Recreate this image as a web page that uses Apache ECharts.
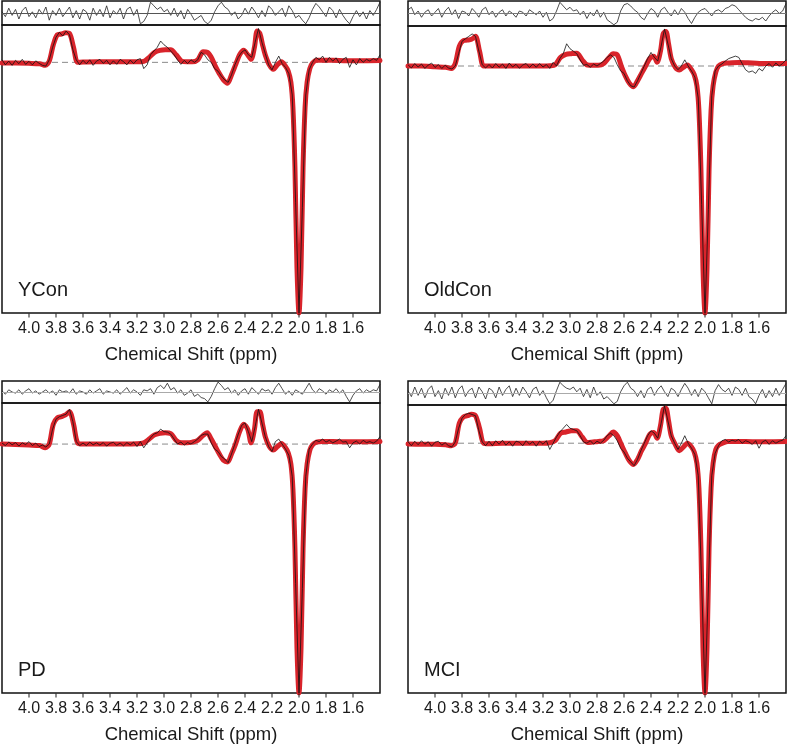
<!DOCTYPE html>
<html>
<head>
<meta charset="utf-8">
<script src="https://cdn.jsdelivr.net/npm/echarts@6/dist/echarts.min.js"></script>
<style>
  html, body { margin: 0; padding: 0; background: #fff; }
  #main { width: 787px; height: 747px; }
</style>
</head>
<body>
<div id="main"></div>
<script>
// x grid of the measured spectrum (ppm), 4.2 -> 1.4 in 0.025 steps
var ppmStart = 4.2, ppmStep = 0.025, ppmCount = 113;
var ppmGrid = [];
for (var i = 0; i < ppmCount; i++) ppmGrid.push(+(ppmStart - i * ppmStep).toFixed(3));

// x positions of the fitted curve (ppm)
var fitPpm = [4.2, 4.1, 4.0, 3.92, 3.88, 3.85, 3.82, 3.79, 3.76, 3.73, 3.70, 3.67, 3.64, 3.60, 3.5, 3.4, 3.3, 3.2, 3.15, 3.11,
  3.07, 3.03, 2.99, 2.95, 2.91, 2.87, 2.83, 2.79, 2.75, 2.71, 2.68, 2.65, 2.62, 2.59, 2.56, 2.53, 2.50, 2.47, 2.44, 2.41,
  2.38, 2.355, 2.33, 2.31, 2.29, 2.27, 2.25, 2.22, 2.19, 2.16, 2.13, 2.10, 2.08, 2.06, 2.045, 2.03, 2.015, 2.0, 1.985, 1.97,
  1.955, 1.94, 1.92, 1.90, 1.87, 1.83, 1.75, 1.65, 1.55, 1.4];

var tickLabels = ['4.0', '3.8', '3.6', '3.4', '3.2', '3.0', '2.8', '2.6', '2.4', '2.2', '2.0', '1.8', '1.6'];
var groupNames = ['YCon', 'OldCon', 'PD', 'MCI'];

// fitted curves (red)
var fitYCon = [-0.003, -0.003, -0.004, -0.006, -0.012, 0.005, 0.07, 0.11, 0.113, 0.118, 0.115, 0.06, 0.0, 0.001, 0.002, 0.002, 0.002, 0.002, 0.004, 0.02,
  0.04, 0.048, 0.05, 0.05, 0.03, 0.005, 0.002, 0.002, 0.01, 0.042, 0.04, 0.02, -0.015, -0.045, -0.07, -0.083, -0.05, -0.01, 0.03, 0.048,
  0.03, 0.012, 0.06, 0.125, 0.115, 0.07, 0.03, -0.01, -0.028, -0.01, 0.002, -0.015, -0.035, -0.08, -0.18, -0.42, -0.82, -1.0, -0.82, -0.42,
  -0.18, -0.08, -0.025, -0.003, 0.008, 0.008, 0.008, 0.006, 0.006, 0.007];
var fitOldCon = [0.0, 0.0, -0.003, -0.005, -0.01, 0.01, 0.08, 0.103, 0.105, 0.108, 0.12, 0.06, 0.0, 0.0, 0.0, 0.0, 0.0, 0.0, 0.001, 0.005,
  0.035, 0.047, 0.05, 0.052, 0.025, 0.004, 0.003, 0.003, 0.01, 0.035, 0.05, 0.045, 0.0, -0.04, -0.07, -0.084, -0.06, -0.03, 0.0, 0.03,
  0.04, 0.015, 0.06, 0.13, 0.14, 0.09, 0.03, -0.005, -0.016, -0.005, 0.004, -0.015, -0.035, -0.08, -0.18, -0.42, -0.82, -1.0, -0.82, -0.42,
  -0.18, -0.08, -0.025, 0.0, 0.01, 0.012, 0.014, 0.012, 0.01, 0.01];
var fitPD = [0.0, -0.002, -0.004, -0.006, -0.015, 0.0, 0.08, 0.105, 0.11, 0.117, 0.13, 0.08, 0.005, 0.0, 0.0, 0.0, 0.0, 0.001, 0.005, 0.02,
  0.037, 0.043, 0.045, 0.042, 0.015, 0.005, 0.005, 0.008, 0.015, 0.035, 0.045, 0.02, -0.01, -0.04, -0.065, -0.072, -0.04, 0.0, 0.05, 0.08,
  0.06, 0.005, 0.06, 0.13, 0.13, 0.08, 0.03, -0.01, -0.024, -0.01, 0.002, -0.015, -0.035, -0.08, -0.18, -0.42, -0.82, -1.0, -0.82, -0.42,
  -0.18, -0.08, -0.025, -0.003, 0.008, 0.01, 0.01, 0.009, 0.009, 0.01];
var fitMCI = [-0.003, -0.004, -0.004, -0.006, -0.01, 0.0, 0.08, 0.105, 0.11, 0.116, 0.11, 0.06, 0.0, -0.002, 0.0, 0.0, 0.0, 0.0, 0.002, 0.01,
  0.04, 0.045, 0.05, 0.05, 0.025, 0.003, 0.005, 0.007, 0.01, 0.03, 0.045, 0.03, -0.005, -0.04, -0.07, -0.085, -0.065, -0.03, 0.0, 0.035,
  0.043, 0.02, 0.07, 0.135, 0.14, 0.09, 0.03, -0.005, -0.03, -0.015, 0.0, -0.015, -0.035, -0.08, -0.18, -0.42, -0.82, -1.0, -0.82, -0.42,
  -0.18, -0.08, -0.025, -0.008, 0.0, 0.007, 0.007, 0.006, 0.006, 0.007];

// measured spectra (thin black)
var dataYCon = [0.01, -0.01, 0.005, -0.012, 0.008, -0.005, 0.012, -0.008, 0.004, -0.01, 0.006, -0.004, -0.012,
  -0.015, 0.01, 0.06, 0.1, 0.12, 0.105, 0.125, 0.11, 0.05, 0.01, -0.01,
  0.008, -0.006, 0.01, -0.012, 0.005, 0.012, -0.004, 0.008, -0.01, 0.006, -0.008, 0.012, 0.003, -0.01, 0.009, -0.005, 0.01,
  0.015, -0.025, -0.01, 0.03, 0.045, 0.06, 0.085, 0.07, 0.06, 0.045,
  0.03, 0.01, -0.008, 0.008, -0.005, 0.01, 0.0, 0.01, 0.04, 0.03,
  0.01, 0.0, -0.025, -0.035, -0.055, -0.07, -0.08, -0.05, -0.01, 0.02,
  0.04, 0.05, 0.03, 0.02, 0.08, 0.135, 0.08, 0.035, -0.01, -0.03,
  0.0, 0.025, -0.005, -0.02, -0.045, -0.13, -0.56, -1.0, -0.58, -0.13, -0.03, 0.0, 0.02,
  0.01, 0.025, 0.0, 0.02, 0.005, 0.018, -0.005, 0.012, 0.02, -0.02, 0.01, -0.01, 0.015, 0.0, 0.012, 0.005, 0.015, 0.008, 0.03];
var dataOldCon = [0.005, -0.008, 0.01, -0.004, 0.008, -0.01, 0.004, 0.012, -0.006, 0.006, -0.01, 0.003, -0.008,
  -0.012, 0.0, 0.05, 0.1, 0.11, 0.12, 0.13, 0.12, 0.06, 0.005, -0.008,
  0.006, -0.008, 0.01, -0.005, 0.008, -0.01, 0.012, -0.004, 0.007, -0.009, 0.004, 0.01, -0.006, 0.008, -0.005, 0.01, -0.004,
  0.006, -0.01, 0.015, 0.0, 0.03, 0.05, 0.09, 0.07, 0.06, 0.05,
  0.025, 0.003, 0.006, -0.005, 0.008, 0.0, 0.01, 0.02, 0.035, 0.045,
  0.035, 0.005, -0.02, -0.03, -0.06, -0.08, -0.085, -0.06, -0.03, 0.0,
  0.03, 0.055, 0.035, 0.02, 0.08, 0.15, 0.09, 0.03, 0.0, -0.015,
  0.0, 0.025, 0.0, -0.02, -0.045, -0.13, -0.56, -1.0, -0.58, -0.12, -0.02, 0.0, 0.008,
  0.02, 0.03, 0.035, 0.04, 0.035, 0.01, -0.015, -0.025, -0.02, -0.03, -0.01, -0.02, 0.0, 0.01, -0.005, 0.012, 0.0, 0.01, 0.025];
var dataPD = [0.004, -0.006, 0.008, -0.003, 0.006, -0.008, 0.005, -0.002, 0.01, -0.006, 0.004, -0.01, -0.004,
  -0.012, 0.0, 0.06, 0.1, 0.11, 0.115, 0.12, 0.14, 0.09, 0.01, -0.006,
  0.004, -0.006, 0.008, -0.003, 0.005, -0.004, 0.006, -0.008, 0.003, 0.007, -0.005, 0.004, -0.007, 0.006, -0.003, 0.008, -0.01,
  0.01, -0.015, 0.005, 0.025, 0.04, 0.045, 0.06, 0.05, 0.048, 0.04,
  0.02, 0.0, 0.008, -0.004, 0.006, 0.0, 0.01, 0.02, 0.035, 0.04,
  0.04, 0.005, -0.02, -0.03, -0.05, -0.06, -0.075, -0.04, 0.0, 0.04,
  0.075, 0.085, 0.05, 0.01, 0.07, 0.14, 0.085, 0.03, -0.01, -0.03,
  0.01, 0.02, 0.0, -0.02, -0.045, -0.13, -0.56, -1.0, -0.58, -0.13, -0.02, 0.0, 0.015,
  0.01, 0.02, 0.008, 0.015, 0.005, 0.012, 0.02, 0.008, 0.01, -0.015, 0.005, 0.012, 0.0, 0.015, 0.006, 0.01, 0.004, 0.012, 0.03];
var dataMCI = [0.006, -0.01, 0.008, -0.006, 0.01, -0.004, 0.006, -0.012, 0.004, 0.008, -0.008, 0.002, -0.01,
  -0.015, 0.005, 0.06, 0.1, 0.115, 0.12, 0.115, 0.11, 0.05, 0.005, -0.01,
  0.008, -0.01, 0.01, -0.004, 0.012, -0.008, 0.006, -0.012, 0.008, 0.004, -0.01, 0.01, -0.004, 0.006, -0.012, 0.008, -0.004,
  0.01, -0.025, 0.0, 0.025, 0.045, 0.06, 0.075, 0.06, 0.055, 0.05,
  0.03, 0.005, 0.0, 0.01, -0.004, 0.008, 0.0, 0.012, 0.03, 0.04,
  0.03, 0.01, -0.02, -0.035, -0.06, -0.075, -0.09, -0.065, -0.03, 0.0,
  0.03, 0.05, 0.04, 0.02, 0.08, 0.15, 0.09, 0.03, 0.0, -0.025,
  0.0, 0.03, 0.0, -0.02, -0.045, -0.13, -0.56, -1.0, -0.58, -0.13, -0.04, -0.01, 0.01,
  0.015, 0.005, 0.012, 0.008, 0.015, 0.0, 0.01, 0.005, -0.005, 0.01, -0.02, 0.005, 0.012, -0.005, 0.01, 0.0, 0.008, 0.012, 0.03];

// residuals (top strips)
var residYCon = [0.1, -0.3, 0.4, -0.2, 0.3, -0.5, 0.2, 0.5, -0.3, 0.1,
  -0.4, 0.3, -0.1, 0.5, -0.6, 0.2, -0.2, 0.4, -0.3, 0.1,
  0.5, -0.4, 0.2, -0.5, 0.3, 0.1, -0.6, 0.4, -0.2, 0.3,
  -0.3, 0.6, -0.4, 0.2, -0.1, 0.4, -0.5, 0.3, 0.5, -0.2,
  0.3, -0.9, -0.7, -0.2, 0.9, 0.6, 0.3, 0.5, 0.1, 0.3,
  -0.2, 0.4, -0.3, 0.2, -0.5, 0.3, -0.1, -0.6, -0.4, -0.2,
  -0.7, -0.9, -0.6, 0.1, 0.6, 0.9, 0.5, 0.3, -0.2, 0.1,
  -0.5, -0.2, 0.4, -0.1, 0.5, 0.1, -0.4, 0.2, -0.3, 0.6,
  0.3, -0.2, 0.1, 0.4, -0.3, 0.6, 0.2, -0.4, -0.2, -0.6,
  -0.9, -0.4, 0.3, 0.8, 0.5, 0.1, -0.3, 0.5, 0.2, -0.4,
  0.3, -0.2, -0.6, -0.9, -0.3, 0.2, -0.3, 0.1, -0.5, 0.2,
  -0.2, 0.3, 0.9];
var residOldCon = [0.3, 0.5, -0.1, 0.2, -0.3, 0.1, 0.3, -0.2, 0.1, 0.4,
  -0.3, 0.2, 0.5, -0.1, 0.3, -0.4, 0.2, 0.1, -0.2, 0.4,
  0.1, -0.3, 0.3, 0.5, -0.1, 0.2, -0.3, 0.1, 0.3, -0.2,
  0.2, 0.0, -0.3, 0.2, 0.1, -0.2, 0.3, 0.1, -0.1, 0.2,
  -0.3, 0.1, -0.6, -0.4, 0.2, 0.9, 0.6, 0.3, 0.5, 0.2,
  0.3, -0.1, 0.2, -0.4, 0.1, -0.2, 0.3, -0.3, 0.1, -0.5,
  -0.7, -0.9, -0.7, 0.2, 0.7, 0.8, 0.6, 0.3, 0.1, -0.3,
  -0.5, 0.0, 0.4, 0.2, -0.3, 0.3, 0.5, 0.1, -0.2, 0.3,
  -0.1, 0.4, 0.1, -0.4, -0.8, -0.3, 0.1, 0.3, 0.4, 0.1,
  -0.2, 0.2, 0.3, 0.1, 0.4, 0.5, 0.7, 0.6, 0.3, 0.0,
  -0.3, -0.5, -0.6, -0.4, -0.5, -0.3, -0.6, -0.2, 0.1, 0.3,
  0.0, 0.2, 0.8];
var residPD = [0.1, -0.2, 0.2, 0.0, -0.1, 0.2, -0.2, 0.1, 0.3, -0.1,
  0.1, -0.2, 0.0, 0.2, -0.1, 0.1, -0.3, 0.2, 0.0, 0.1,
  -0.1, 0.3, -0.2, 0.1, 0.0, -0.2, 0.2, -0.1, 0.1, 0.3,
  -0.2, 0.1, 0.0, -0.1, 0.2, -0.2, 0.1, 0.4, -0.1, 0.2,
  0.0, -0.3, 0.2, 0.1, 0.3, -0.2, 0.4, 0.6, 0.3, 0.8,
  0.2, 0.4, -0.1, 0.2, -0.3, -0.1, 0.2, -0.4, -0.2, -0.5,
  -0.6, -0.9, -0.4, 0.3, 0.9, 0.6, 0.2, 0.4, -0.1, 0.2,
  -0.3, 0.1, 0.3, -0.2, 0.4, 0.1, -0.2, 0.3, 0.1, 0.2,
  -0.2, 0.4, 0.8, 0.3, -0.2, 0.1, -0.3, 0.2, 0.0, -0.2,
  0.3, 0.8, 0.2, -0.1, 0.3, 0.1, -0.2, 0.2, 0.0, 0.3,
  -0.1, 0.2, -0.4, -0.9, -0.3, 0.1, 0.3, -0.1, 0.2, 0.0,
  0.2, 0.1, 0.7];
var residMCI = [0.2, -0.3, 0.5, -0.2, 0.4, -0.4, 0.3, 0.6, -0.3, 0.2,
  -0.5, 0.4, -0.2, 0.5, -0.4, 0.3, 0.6, -0.3, 0.2, 0.4,
  -0.4, 0.5, 0.1, -0.5, 0.4, 0.2, -0.4, 0.5, -0.2, 0.3,
  0.6, -0.3, 0.4, -0.2, 0.5, 0.1, -0.4, 0.3, 0.5, -0.2,
  0.2, -0.4, -0.9, -0.6, 0.2, 0.9, 0.6, 0.4, 0.3, 0.5,
  0.1, 0.4, -0.3, 0.3, -0.4, 0.5, -0.2, 0.1, -0.5, -0.3,
  -0.6, -0.9, -0.7, 0.1, 0.6, 0.9, 0.4, 0.2, -0.3, 0.2,
  -0.4, 0.3, 0.5, -0.2, 0.3, 0.6, 0.1, -0.3, 0.4, 0.2,
  -0.3, 0.3, 0.8, 0.4, -0.2, 0.3, -0.3, 0.4, 0.1, -0.4,
  -0.9, 0.2, 0.7, 0.3, 0.1, 0.4, -0.2, 0.5, 0.3, -0.2,
  0.4, -0.3, -0.5, -0.9, -0.2, 0.3, -0.4, 0.2, -0.3, 0.4,
  -0.2, 0.3, 0.8];

var font = '"Liberation Sans", Arial, Helvetica, sans-serif';
var ink = '#1a1a1a';

// layout of the four panels
var panels = [
  { name: groupNames[0], left: 2,   top: 1,   resH: 24, specH: 288, yMax: 0.149, zeroColor: '#555', fit: fitYCon,   data: dataYCon,   resid: residYCon },
  { name: groupNames[1], left: 408, top: 1,   resH: 25, specH: 287, yMax: 0.162, zeroColor: '#777', fit: fitOldCon, data: dataOldCon, resid: residOldCon },
  { name: groupNames[2], left: 2,   top: 381, resH: 22, specH: 290, yMax: 0.165, zeroColor: '#aaa', fit: fitPD,     data: dataPD,     resid: residPD },
  { name: groupNames[3], left: 408, top: 381, resH: 24, specH: 288, yMax: 0.153, zeroColor: '#aaa', fit: fitMCI,    data: dataMCI,    resid: residMCI }
];

var grid = [], xAxis = [], yAxis = [], series = [], graphic = [];
var xMin = 1.4, xMax = 4.2;

panels.forEach(function (p, n) {
  var r = n * 3, s = n * 3 + 1, a = n * 3 + 2;
  var box = { show: true, borderColor: '#111', borderWidth: 1.5, backgroundColor: 'transparent' };
  var bottom = p.top + p.resH + p.specH;
  grid.push(Object.assign({ left: p.left, top: p.top, width: 378, height: p.resH }, box));
  grid.push(Object.assign({ left: p.left, top: p.top + p.resH, width: 378, height: p.specH }, box));
  // helper grid whose zero line sits on the bottom border: carries ticks, labels and title
  grid.push({ left: p.left, top: bottom - 20, width: 378, height: 20, show: false });

  xAxis.push({ gridIndex: r, type: 'value', min: xMin, max: xMax, inverse: true, show: false });
  xAxis.push({ gridIndex: s, type: 'value', min: xMin, max: xMax, inverse: true, show: false });
  xAxis.push({
    gridIndex: a, type: 'value', position: 'bottom', min: xMin, max: xMax, interval: 0.2, inverse: true,
    axisLine: { show: false },
    axisTick: { show: false },
    axisLabel: {
      show: true, margin: 8, fontSize: 16, color: ink, fontFamily: font,
      showMinLabel: false, showMaxLabel: false,
      formatter: function (v) {
        var t = v.toFixed(1);
        return tickLabels.indexOf(t) >= 0 ? t : '';
      }
    },
    splitLine: { show: false },
    name: 'Chemical Shift (ppm)', nameLocation: 'middle', nameGap: 32,
    nameTextStyle: { fontSize: 18.5, color: ink, fontFamily: font }
  });
  yAxis.push({ gridIndex: r, type: 'value', min: -1, max: 1, show: false });
  yAxis.push({ gridIndex: s, type: 'value', min: -1, max: p.yMax, show: false });
  yAxis.push({ gridIndex: a, type: 'value', min: 0, max: 1, show: false });

  // residual strip
  series.push({
    type: 'line', xAxisIndex: r, yAxisIndex: r, symbol: 'none', animation: false, z: 3,
    data: ppmGrid.map(function (x, j) { return [x, p.resid[j]]; }),
    lineStyle: { color: '#222', width: 0.8 },
    markLine: {
      silent: true, symbol: 'none', label: { show: false }, animation: false,
      lineStyle: { color: p.zeroColor, width: 1, type: 'solid' },
      data: [{ yAxis: 0 }]
    }
  });
  // dashed zero baseline
  series.push({
    type: 'line', xAxisIndex: s, yAxisIndex: s, symbol: 'none', animation: false, z: 1,
    data: [[xMax, 0], [xMin, 0]],
    lineStyle: { color: '#8a8a8a', width: 1, type: [6, 4] }
  });
  // fit (red)
  series.push({
    type: 'line', xAxisIndex: s, yAxisIndex: s, symbol: 'none', animation: false, z: 2,
    smooth: 0.3,
    data: fitPpm.map(function (x, j) { return [x, p.fit[j]]; }),
    lineStyle: { color: '#d9242b', width: 5, cap: 'round', join: 'round' }
  });
  // measured (black)
  series.push({
    type: 'line', xAxisIndex: s, yAxisIndex: s, symbol: 'none', animation: false, z: 3,
    data: ppmGrid.map(function (x, j) { return [x, p.data[j]]; }),
    lineStyle: { color: '#111', width: 0.8 }
  });
  // outward tick marks under the bottom border, one per labelled ppm value
  series.push({
    type: 'scatter', xAxisIndex: a, yAxisIndex: a, animation: false, silent: true, clip: false, z: 5,
    data: tickLabels.map(function (t) { return [parseFloat(t), 0]; }),
    symbol: 'rect', symbolSize: [1.2, 4], symbolOffset: [0, 2.5],
    itemStyle: { color: '#111' }
  });

  graphic.push({
    type: 'text', left: p.left + 16, top: bottom - 33,
    style: { text: p.name, fontSize: 20, fill: ink, fontFamily: font }
  });
});

var chart = echarts.init(document.getElementById('main'));
chart.setOption({
  animation: false,
  backgroundColor: '#fff',
  grid: grid,
  xAxis: xAxis,
  yAxis: yAxis,
  series: series,
  graphic: graphic
});
</script>
</body>
</html>
